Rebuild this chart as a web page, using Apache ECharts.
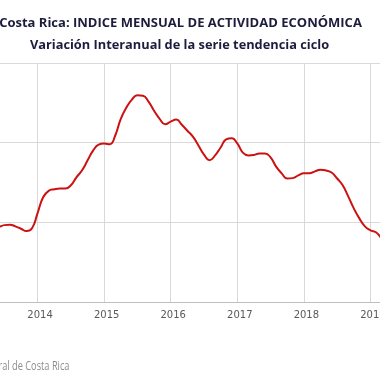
<!DOCTYPE html>
<html>
<head>
<meta charset="utf-8">
<script src="https://cdn.jsdelivr.net/npm/echarts@6/dist/echarts.min.js"></script>
<style>html,body{margin:0;padding:0;background:#fff;overflow:hidden;width:380px;height:380px;position:relative}#c{position:absolute;left:-29.5px;top:0;width:465.5px;height:380px}</style>
</head>
<body>
<div id="c"></div>
<script>
const titleText = 'Costa Rica: INDICE MENSUAL DE ACTIVIDAD ECONÓMICA';
const subtitleText = 'Variación Interanual de la serie tendencia ciclo';
const sourceText = 'Fuente: Banco Central de Costa Rica';
const yearTicks = [2013, 2014, 2015, 2016, 2017, 2018, 2019, 2020];
const months = ['2013-04','2013-05','2013-06','2013-07','2013-08','2013-09','2013-10','2013-11','2013-12',
'2014-01','2014-02','2014-03','2014-04','2014-05','2014-06','2014-07','2014-08','2014-09','2014-10','2014-11','2014-12',
'2015-01','2015-02','2015-03','2015-04','2015-05','2015-06','2015-07','2015-08','2015-09','2015-10','2015-11','2015-12',
'2016-01','2016-02','2016-03','2016-04','2016-05','2016-06','2016-07','2016-08','2016-09','2016-10','2016-11','2016-12',
'2017-01','2017-02','2017-03','2017-04','2017-05','2017-06','2017-07','2017-08','2017-09','2017-10','2017-11','2017-12',
'2018-01','2018-02','2018-03','2018-04','2018-05','2018-06','2018-07','2018-08','2018-09','2018-10','2018-11','2018-12',
'2019-01','2019-02','2019-03','2019-04'];
const variacion = [1.84,1.85,1.88,1.93,1.94,1.90,1.84,1.78,1.85,
2.23,2.63,2.79,2.83,2.85,2.85,2.93,3.13,3.30,3.55,3.80,3.95,
3.98,3.96,4.18,4.60,4.88,5.08,5.19,5.18,5.03,4.80,4.60,4.46,
4.53,4.58,4.45,4.30,4.15,3.93,3.70,3.56,3.68,3.88,4.08,4.11,
3.98,3.75,3.68,3.69,3.73,3.73,3.63,3.40,3.23,3.10,3.11,3.18,
3.23,3.23,3.28,3.32,3.30,3.25,3.10,2.93,2.65,2.35,2.10,1.90,
1.80,1.75,1.60,1.45];

const seriesData = months.map((m, i) => {
  const [y, mo] = m.split('-').map(Number);
  return [y + (mo - 1) / 12, variacion[i]];
});

const OFF = 29.5;
const chart = echarts.init(document.getElementById('c'), null, {renderer: 'canvas'});
chart.setOption({
  animation: false,
  backgroundColor: '#ffffff',
  title: [
    {text: titleText, left: 175 + OFF, textAlign: 'center', top: 12,
     textStyle: {fontFamily: 'Open Sans', fontWeight: 'bold', fontSize: 13, color: '#1c1c3c'}},
    {text: subtitleText, left: 174 + OFF, textAlign: 'center', top: 34,
     textStyle: {fontFamily: 'Open Sans', fontWeight: 'bold', fontSize: 12.8, color: '#1c1c3c'}}
  ],
  graphic: [{
    type: 'text', x: 69 + OFF, y: 367, scaleX: 0.77,
    style: {text: sourceText, fill: '#8c8c8c', font: '12px "Open Sans"', align: 'right', verticalAlign: 'middle'}
  }],
  grid: {left: 0, right: 0, top: 63, bottom: 78, containLabel: false, outerBoundsMode: 'none'},
  xAxis: {
    type: 'value', min: yearTicks[0], max: yearTicks[yearTicks.length - 1], interval: 1,
    axisLine: {show: true, lineStyle: {color: '#bfbfbf', width: 1}},
    axisTick: {show: false},
    splitLine: {show: true, lineStyle: {color: '#d9d9d9', width: 1}},
    axisLabel: {color: '#595959', fontSize: 10, fontFamily: 'DejaVu Sans', margin: 8,
      padding: [0, 0, 0, 5], formatter: v => String(v)}
  },
  yAxis: {
    type: 'value', min: 0, max: 6, interval: 2,
    axisLine: {show: false}, axisTick: {show: false}, axisLabel: {show: false},
    splitLine: {show: true, lineStyle: {color: '#d9d9d9', width: 1}}
  },
  series: [{
    type: 'line', data: seriesData, smooth: true, showSymbol: false,
    lineStyle: {color: '#cc1111', width: 2}, clip: true
  }]
});
</script>
</body>
</html>
